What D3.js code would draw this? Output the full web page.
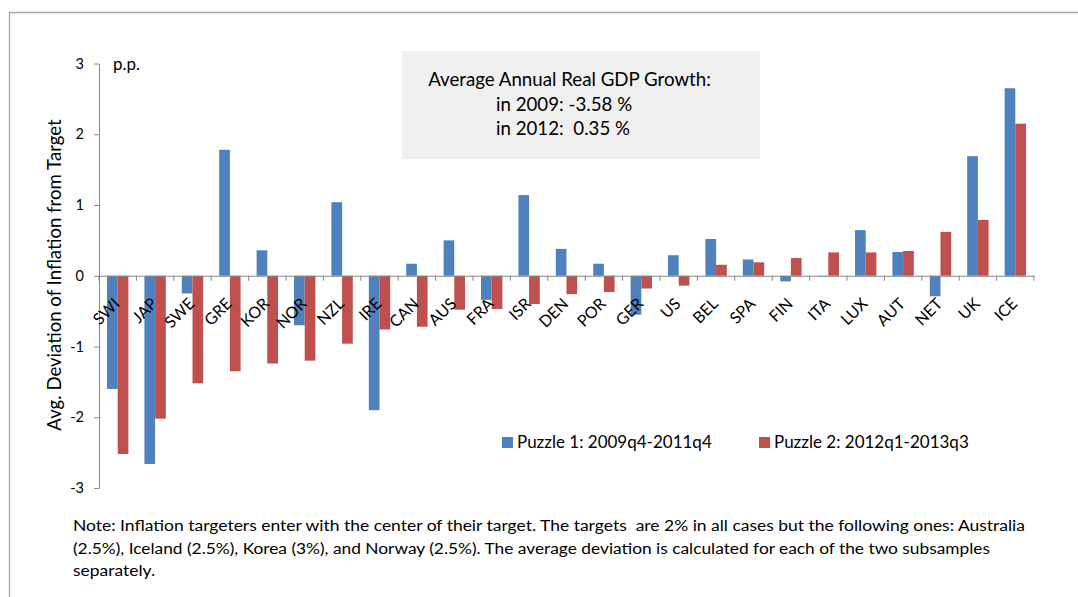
<!DOCTYPE html>
<html>
<head>
<meta charset="utf-8">
<script src="https://cdn.jsdelivr.net/npm/d3@7"></script>
<style>
  html, body { margin: 0; padding: 0; background: #fff; }
  svg { display: block; }
  text { font-family: Lato, "Open Sans", sans-serif; fill: #000; white-space: pre; }
</style>
</head>
<body>
<svg id="chart" width="1078" height="597"></svg>
<script>
const categories = ["SWI","JAP","SWE","GRE","KOR","NOR","NZL","IRE","CAN","AUS","FRA","ISR","DEN","POR","GER","US","BEL","SPA","FIN","ITA","LUX","AUT","NET","UK","ICE"];
const puzzle1 = [-1.60,-2.66,-0.25,1.78,0.36,-0.70,1.04,-1.90,0.17,0.50,-0.34,1.14,0.38,0.17,-0.55,0.29,0.52,0.23,-0.08,-0.01,0.645,0.335,-0.29,1.69,2.65];
const puzzle2 = [-2.52,-2.02,-1.52,-1.35,-1.24,-1.20,-0.96,-0.76,-0.72,-0.48,-0.47,-0.40,-0.26,-0.23,-0.18,-0.14,0.155,0.19,0.25,0.33,0.33,0.35,0.62,0.79,2.15];
const seriesNames = ["Puzzle 1: 2009q4-2011q4","Puzzle 2: 2012q1-2013q3"];
const seriesColors = ["#4F81BD","#C0504D"];
const yTicks = [-3,-2,-1,0,1,2,3];
const yTitle = "Avg. Deviation of Inflation from Target";
const unitLabel = "p.p.";
const boxLines = ["Average Annual Real GDP Growth:","in 2009: -3.58 %","in 2012:  0.35 %"];
const noteLines = [
  "Note: Inflation targeters enter with the center of their target. The targets  are 2% in all cases but the following ones: Australia",
  "(2.5%), Iceland (2.5%), Korea (3%), and Norway (2.5%). The average deviation is calculated for each of the two subsamples",
  "separately."
];

const svg = d3.select("#chart");
const axisColor = "#868686";

// outer frame (top and left edges visible)
svg.append("path")
  .attr("d", "M9.5,597 L9.5,12.5 L1078,12.5")
  .attr("fill", "none").attr("stroke", "#a6a6a6").attr("stroke-width", 1.3);

const x = d3.scaleBand().domain(categories).range([99, 1034]).padding(0);
const y = d3.scaleLinear().domain([-3, 3]).range([488, 63.5]);
const bw = x.bandwidth();
const barW = bw / 3.5;
const sub = d3.scaleBand().domain([0, 1]).range([bw * 0.75 / 3.5, bw * 0.75 / 3.5 + 2 * barW]).padding(0);

// annotation box
svg.append("rect").attr("x", 402).attr("y", 51).attr("width", 358).attr("height", 108).attr("fill", "#F0F0F0");
const boxText = svg.append("g");
boxText.append("text").attr("x", 569.5).attr("y", 86).attr("text-anchor", "middle").attr("font-size", 18.7).text(boxLines[0]);
boxText.selectAll("text.sub").data(boxLines.slice(1)).join("text").attr("class", "sub")
  .attr("x", 496).attr("y", (d, i) => 110.5 + i * 24.5)
  .attr("font-size", 18.7)
  .text(d => d);

// bars
const series = [puzzle1, puzzle2];
series.forEach((vals, s) => {
  svg.append("g").selectAll("rect").data(categories).join("rect")
    .attr("x", (c) => x(c) + sub(s))
    .attr("width", sub.bandwidth())
    .attr("y", (c, i) => Math.min(y(vals[i]), y(0)))
    .attr("height", (c, i) => Math.abs(y(vals[i]) - y(0)))
    .attr("fill", seriesColors[s]);
});

// y axis
const yAxis = svg.append("g").attr("transform", "translate(99,0)")
  .call(d3.axisLeft(y).tickValues(yTicks).tickSize(5).tickSizeOuter(0).tickFormat(d => String(d)));
yAxis.select(".domain").attr("stroke", axisColor);
yAxis.selectAll(".tick line").attr("stroke", axisColor);
yAxis.selectAll(".tick text").attr("x", -15).attr("font-size", 14.5).attr("font-family", "Lato").attr("fill", "#000");

// x axis at zero
const xAxis = svg.append("g").attr("transform", `translate(0,${y(0)})`)
  .call(d3.axisBottom(x).tickSize(5).tickSizeOuter(0).tickFormat(""));
xAxis.select(".domain").attr("stroke", axisColor);
xAxis.selectAll(".tick line").attr("stroke", axisColor).attr("transform", `translate(${-bw / 2},0)`);
xAxis.append("line").attr("x1", x.range()[1]).attr("x2", x.range()[1]).attr("y1", 0).attr("y2", 5).attr("stroke", axisColor);

// category labels (over bars)
svg.append("g").selectAll("text").data(categories).join("text")
  .attr("transform", c => `translate(${x(c) + bw / 2 + 3},${y(0) + 29}) rotate(-45)`)
  .attr("text-anchor", "end").attr("font-size", 16)
  .text(c => c);

// unit label
svg.append("text").attr("x", 113).attr("y", 70).attr("font-size", 17).text(unitLabel);

// y title
svg.append("text").attr("transform", "translate(61,275) rotate(-90)")
  .attr("text-anchor", "middle").attr("font-size", 18.6).text(yTitle);

// legend
const leg = svg.append("g");
const legX = [502, 759];
seriesNames.forEach((n, i) => {
  leg.append("rect").attr("x", legX[i]).attr("y", 437).attr("width", 11).attr("height", 11).attr("fill", seriesColors[i]);
  leg.append("text").attr("x", legX[i] + 15).attr("y", 448).attr("font-size", 17).text(n);
});

// note
const noteWidths = [952, 917, 82];
svg.append("g").selectAll("text").data(noteLines).join("text")
  .attr("x", 73).attr("y", (d, i) => 531 + i * 22.7)
  .attr("font-size", 15.5)
  .attr("textLength", (d, i) => noteWidths[i]).attr("lengthAdjust", "spacingAndGlyphs")
  .text(d => d);
</script>
</body>
</html>
